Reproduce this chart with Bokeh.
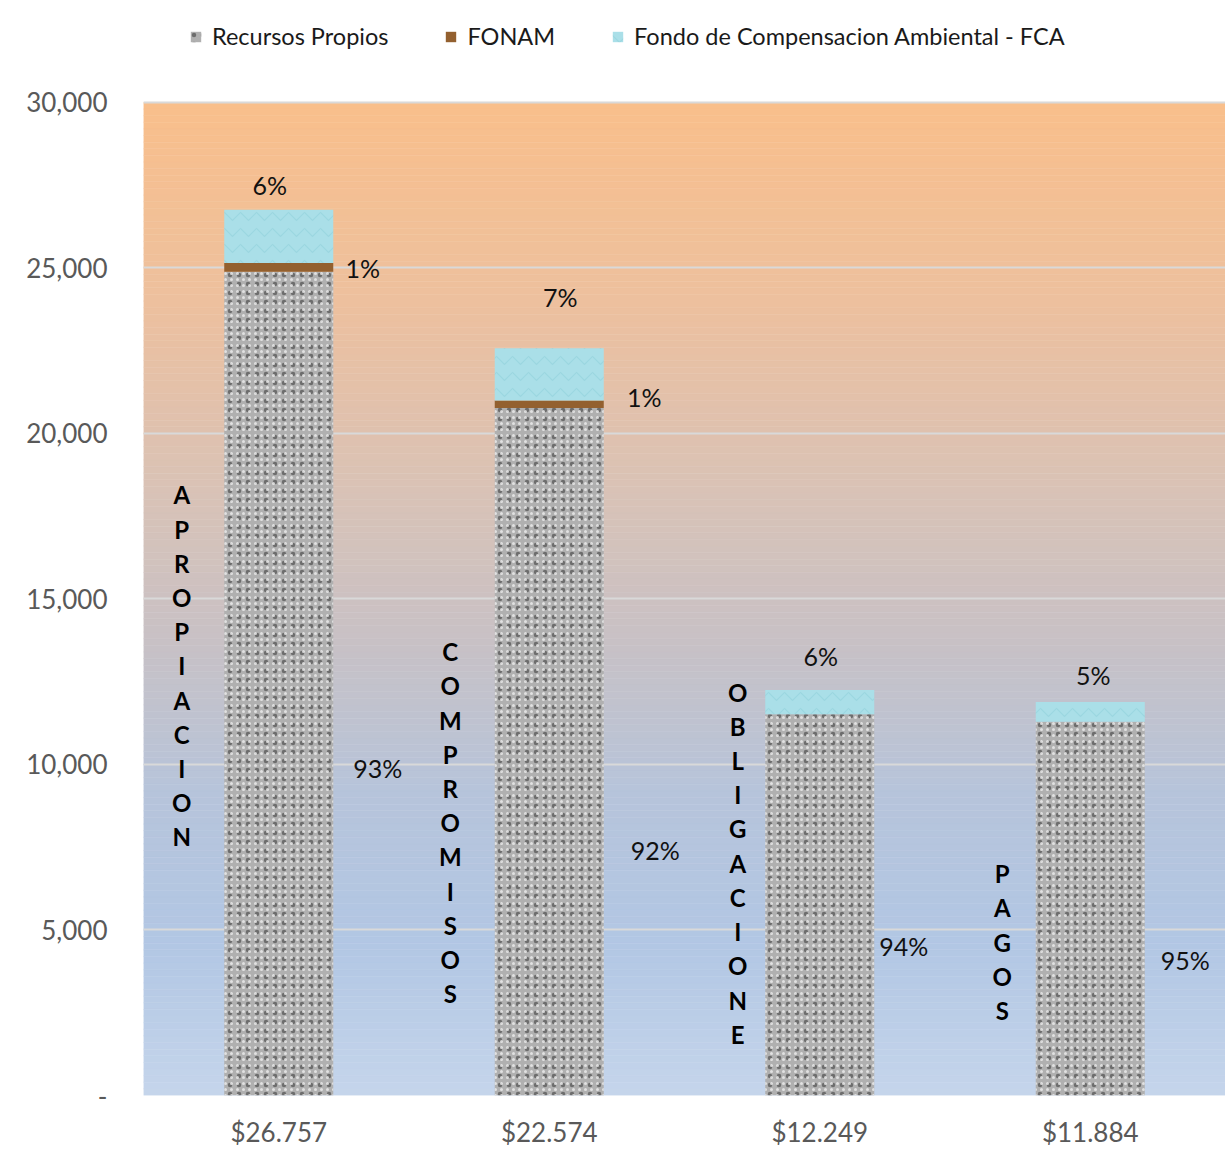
from bokeh.plotting import figure
from bokeh.models import (ColumnDataSource, Range1d, FixedTicker,
                          NumeralTickFormatter, Legend, LegendItem)
from bokeh.core.properties import value
from bokeh.embed import file_html
from bokeh.resources import INLINE

# ---------------- data ----------------
categories = ["$26.757", "$22.574", "$12.249", "$11.884"]
recursos_propios = [24884, 20768, 11514, 11290]
fonam = [268, 226, 0, 0]
fca = [1605, 1580, 735, 594]
stage_words = ["APROPIACION", "COMPROMISOS", "OBLIGACIONE", "PAGOS"]
series_names = ["Recursos Propios", "FONAM", "Fondo de Compensacion Ambiental - FCA"]
y_ticks = [0, 5000, 10000, 15000, 20000, 25000, 30000]

# ---------------- styling / placement ----------------
FONT = "Lato"
COL_RP, COL_FONAM, COL_FCA = "#b0b0b0", "#93602f", "#aadfe8"
BAR_W = 0.403
Y_MAX = 30000
FRAME_TOP, AXIS_TOP, AXIS_BOTTOM = 10, 102, 1096   # page pixels
Y_TOP = Y_MAX * (AXIS_BOTTOM - FRAME_TOP) / (AXIS_BOTTOM - AXIS_TOP)  # headroom for legend

xpos = list(range(len(categories)))
totals = [a + b + c for a, b, c in zip(recursos_propios, fonam, fca)]
X0, X1 = -0.5, len(categories) - 0.5

p = figure(width=1225, height=1150, x_range=Range1d(X0, X1),
           y_range=Range1d(0, Y_TOP), output_backend="svg", toolbar_location=None,
           min_border_left=143, min_border_right=0, min_border_top=FRAME_TOP,
           min_border_bottom=1150 - AXIS_BOTTOM)
p.outline_line_color = None
p.background_fill_color = "white"
p.border_fill_color = "white"

# gradient background (orange top -> blue bottom), drawn at image level
stops = [(0.0, (249, 191, 139)), (0.2, (237, 192, 158)), (0.4, (216, 194, 183)),
         (0.55, (199, 193, 198)), (0.7, (182, 196, 219)), (0.85, (178, 199, 228)),
         (1.0, (197, 213, 235))]
n = 150
bots, tops, cols = [], [], []
for i in range(n):
    f = (i + 0.5) / n  # fraction from top
    for j in range(len(stops) - 1):
        if stops[j][0] <= f <= stops[j + 1][0]:
            t = (f - stops[j][0]) / (stops[j + 1][0] - stops[j][0])
            c = [round(stops[j][1][k] + t * (stops[j + 1][1][k] - stops[j][1][k])) for k in range(3)]
            break
    tops.append(Y_MAX * (1 - i / n)); bots.append(Y_MAX * (1 - (i + 1) / n))
    cols.append("#%02x%02x%02x" % tuple(c))
p.quad(left=X0, right=X1, bottom=bots, top=tops, fill_color=cols, line_color=cols,
       line_width=0.5, level="image")

# grid
p.xgrid.grid_line_color = None
p.ygrid.ticker = FixedTicker(ticks=y_ticks)
p.ygrid.grid_line_color = "#d9d9d9"
p.ygrid.grid_line_width = 2

# bars
source = ColumnDataSource(dict(x=xpos, rp=recursos_propios, fonam=fonam, fca=fca))
r_rp = p.vbar(x="x", bottom=0, top="rp", width=BAR_W, source=source,
              fill_color=COL_RP, line_color=None,
              hatch_pattern="dot", hatch_color="#4a4a4a", hatch_alpha=0.65,
              hatch_scale=9, hatch_weight=3)
p.vbar(x="x", bottom=0, top="rp", width=BAR_W, source=source,
       fill_alpha=0, line_color=None,
       hatch_pattern="dot", hatch_color="#eeeeee", hatch_alpha=0.8, hatch_scale=6, hatch_weight=2.5)
src2 = ColumnDataSource(dict(x=xpos, b=recursos_propios,
                             t=[a + b for a, b in zip(recursos_propios, fonam)]))
r_fonam = p.vbar(x="x", bottom="b", top="t", width=BAR_W, source=src2,
                 fill_color=COL_FONAM, line_color=None)
src3 = ColumnDataSource(dict(x=xpos, b=[a + b for a, b in zip(recursos_propios, fonam)],
                             t=totals))
r_fca = p.vbar(x="x", bottom="b", top="t", width=BAR_W, source=src3,
               fill_color=COL_FCA, line_color=None,
               hatch_pattern="horizontal_wave", hatch_color="#7fc6d1", hatch_alpha=0.35,
               hatch_scale=16, hatch_weight=1.2)

# percent labels
pct_text, pct_x, pct_y, pct_dx = [], [], [], []
label_y = {  # (fca_label_y, fonam_label_y, rp_label_y) in data units
    0: (27495, 24990, 9900), 1: (24115, 21097, 7425), 2: (13280, None, 4527), 3: (12706, None, 4105)}
label_dx = {0: (-9, 84, 99), 1: (11, 95, 106), 2: (1, None, 84), 3: (3, None, 95)}
for i in xpos:
    vals = (fca[i], fonam[i], recursos_propios[i])
    for k in range(3):
        if vals[k] <= 0:
            continue
        pct_text.append("%d%%" % round(vals[k] / totals[i] * 100))
        pct_x.append(i)
        pct_y.append(label_y[i][k])
        pct_dx.append(label_dx[i][k])
p.text(x=pct_x, y=pct_y, text=pct_text, x_offset=pct_dx, text_align="center",
       text_baseline="middle", text_font=value(FONT), text_font_size="25px",
       text_color="#111111")

# vertical stage words
word_y = [12978, 8240, 7017, 4633]
word_dx = [-97, -99, -82, -88]
p.text(x=xpos, y=word_y, text=["\n".join(w) for w in stage_words], x_offset=word_dx,
       text_align="center", text_baseline="middle", text_font=value(FONT),
       text_font_style="bold", text_font_size="24px", text_line_height=1.18,
       text_color="#000000")

# axes
p.xaxis.ticker = FixedTicker(ticks=xpos)
p.xaxis.major_label_overrides = {i: c for i, c in zip(xpos, categories)}
p.yaxis.ticker = FixedTicker(ticks=y_ticks)
p.yaxis.formatter = NumeralTickFormatter(format="0,0")
p.yaxis.major_label_overrides = {0: "-"}
for ax in (p.xaxis[0], p.yaxis[0]):
    ax.axis_line_color = None
    ax.major_tick_line_color = None
    ax.minor_tick_line_color = None
    ax.major_tick_out = 0
    ax.major_tick_in = 0
    ax.minor_tick_out = 0
    ax.major_label_text_font = FONT
    ax.major_label_text_font_size = "26px"
    ax.major_label_text_color = "#595959"
p.yaxis.major_label_standoff = 36
p.xaxis.major_label_standoff = 20

# legend
legend = Legend(items=[LegendItem(label=series_names[0], renderers=[r_rp]),
                       LegendItem(label=series_names[1], renderers=[r_fonam]),
                       LegendItem(label=series_names[2], renderers=[r_fca])],
                orientation="horizontal", location=(46, 1045),
                label_text_font=FONT, label_text_font_size="23.5px", label_text_color="#1a1a1a",
                glyph_width=13, glyph_height=13, label_standoff=10, spacing=56,
                padding=4, margin=0, border_line_color=None, background_fill_alpha=0)
p.add_layout(legend, "center")

open("out.html", "w").write(file_html(p, INLINE))
